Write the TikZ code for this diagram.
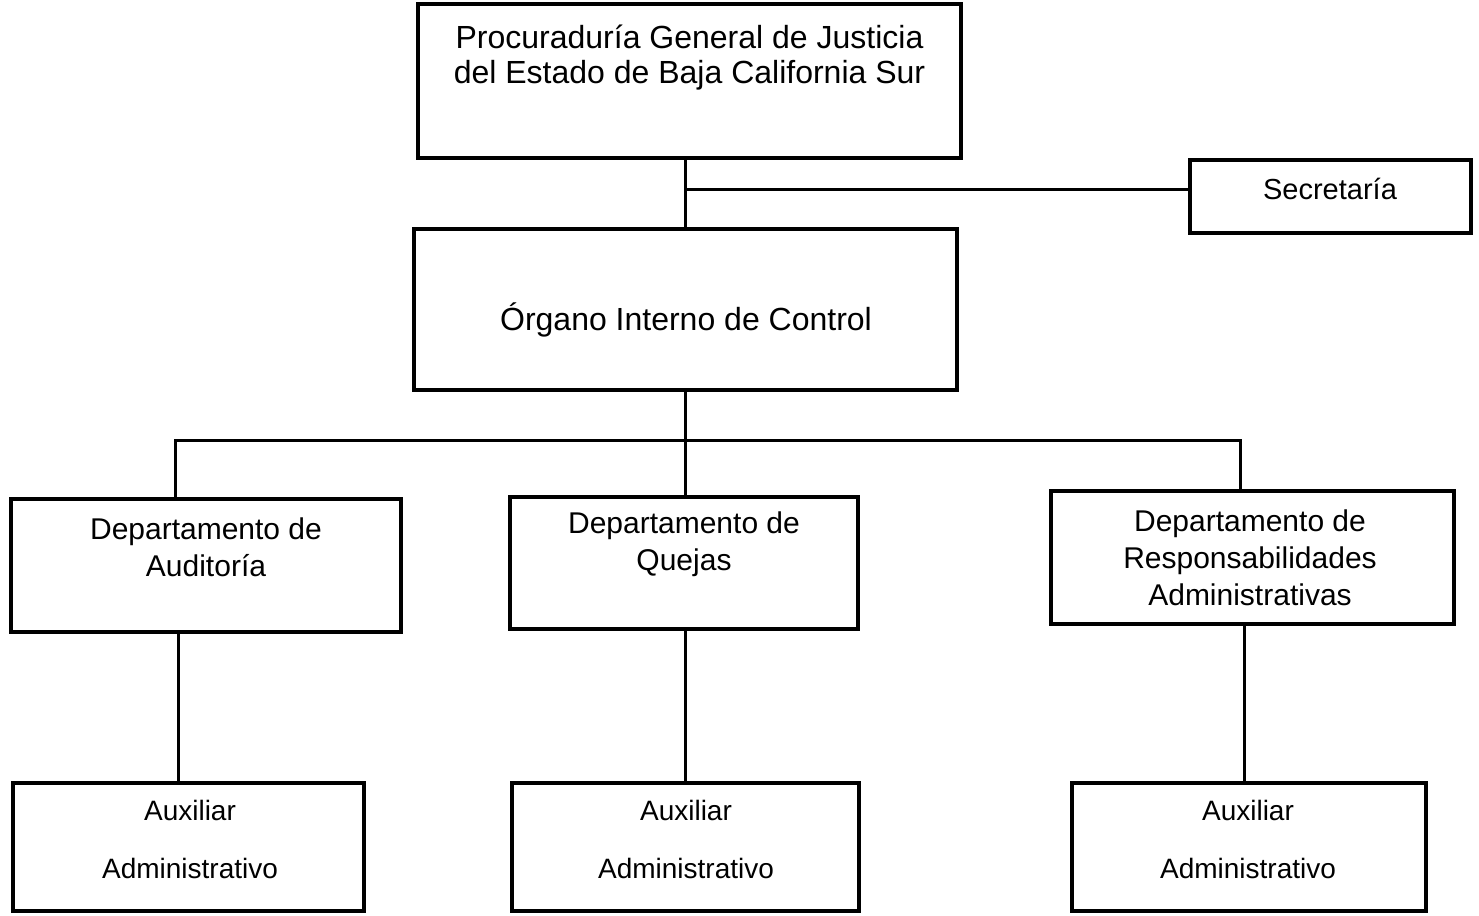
\documentclass[tikz,border=0pt]{standalone}
\usepackage{fontspec}
\setmainfont{Liberation Sans}
\usepackage{tikz}
\usetikzlibrary{positioning}

\begin{document}
\begin{tikzpicture}[x=0.5pt,y=-0.5pt,
caja/.style={draw,line width=2pt,inner sep=0pt},
texto/.style={align=center,inner sep=0pt},
linea/.style={line width=1.5pt}]
\useasboundingbox (0,0) rectangle (1479,916);

% cajas
\node[caja,minimum width=271.5pt,minimum height=77pt](pgj) at (689.5,81){};
\node[caja,minimum width=140.5pt,minimum height=36.5pt](sec) at (1330.5,196.5){};
\node[caja,minimum width=271.5pt,minimum height=80.5pt](org) at (685.5,309.5){};
\node[caja,minimum width=195pt,minimum height=66.5pt](da) at (206,565.5){};
\node[caja,minimum width=174pt,minimum height=66pt](dq) at (684,563){};
\node[caja,minimum width=201.5pt,minimum height=66.5pt](dr) at (1252.5,557.5){};
\node[caja,minimum width=175.5pt,minimum height=64pt](aa) at (188.5,847){};
\node[caja,minimum width=173.5pt,minimum height=64pt](aq) at (685.5,847){};
\node[caja,minimum width=177pt,minimum height=64pt](ar) at (1249,847){};

% textos
\node[texto,font=\fontsize{16}{17.5}\selectfont](pgj-t) at (689.5,57.5)
{Procuraduría General de Justicia\\del Estado de Baja California Sur};
\node[texto,font=\fontsize{14.5}{17}\selectfont](sec-t) at (1330,189){Secretaría};
\node[texto,font=\fontsize{16}{17.5}\selectfont](org-t) at (686,320){Órgano Interno de Control};
\node[texto,font=\fontsize{15}{18.5}\selectfont](da-t) at (206,547.5){Departamento de\\Auditoría};
\node[texto,font=\fontsize{15}{18.5}\selectfont](dq-t) at (684,544.5){Departamento de\\Quejas};
\node[texto,font=\fontsize{15}{18.5}\selectfont](dr-t) at (1250,558)
{Departamento de\\Responsabilidades\\Administrativas};
\node[texto,font=\fontsize{14}{29}\selectfont](aa-t) at (190,839){Auxiliar\\Administrativo};
\node[texto,font=\fontsize{14}{29}\selectfont](aq-t) at (686,839){Auxiliar\\Administrativo};
\node[texto,font=\fontsize{14}{29}\selectfont](ar-t) at (1248,839){Auxiliar\\Administrativo};

% lineas
\coordinate (ramal) at (686,189);
\coordinate (bus-i) at (175,440);
\coordinate (bus-d) at (1240,440);
\draw[linea](org.north |- pgj.south)--(org.north);
\draw[linea](ramal)--(ramal -| sec.west);
\draw[linea](org.south)--(org.south |- dq.north);
\draw[linea](bus-i |- da.north)--(bus-i)--(bus-d)--([yshift=-2pt]bus-d |- dr.north);
\draw[linea]([xshift=-5.25pt]aa.north)--([xshift=-5.25pt]aa.north |- da.south);
\draw[linea](aq.north)--(aq.north |- dq.south);
\draw[linea]([xshift=-2.5pt]ar.north)--([xshift=-2.5pt]ar.north |- dr.south);
\end{tikzpicture}
\end{document}
